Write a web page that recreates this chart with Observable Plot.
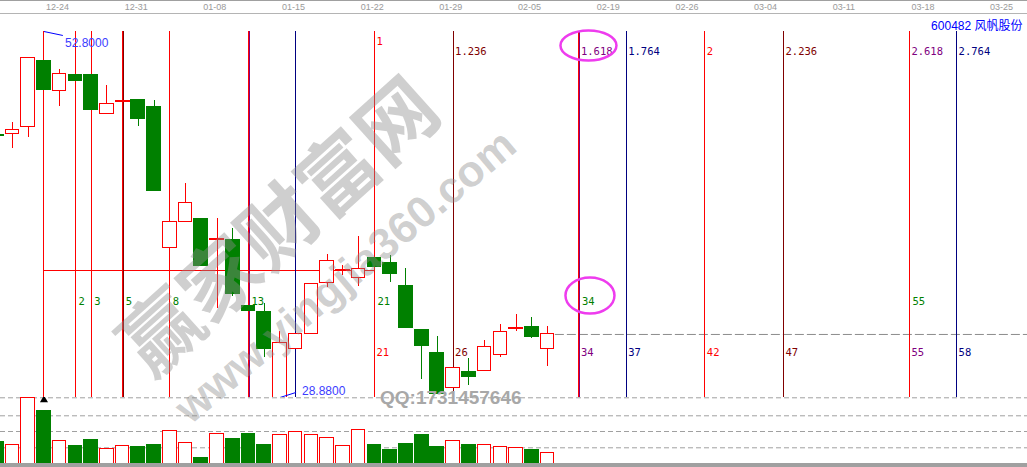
<!DOCTYPE html>
<html><head><meta charset="utf-8">
<script src="https://cdn.jsdelivr.net/npm/d3@7"></script>
<script src="https://cdn.jsdelivr.net/npm/@observablehq/plot@0.6"></script>
<style>
body{margin:0;background:#fff;}
#wrap{position:relative;width:1027px;height:467px;overflow:hidden;background:#fff;}
#wrap svg{display:block;max-width:none;}
#dates{border-top:1px solid #a0a0a0;border-bottom:1px solid #b4b4b4;height:12px;}
#price{height:383px;}
#vol{height:66px;border-bottom:4px solid #a0a0a0;}
.wm{position:absolute;white-space:nowrap;line-height:1;transform-origin:50% 50%;pointer-events:none;}
#wm1{left:275px;top:222px;transform:translate(-50%,-50%) rotate(-42deg);font:bold 79px "Noto Sans CJK SC";color:rgba(140,140,140,0.42);}
#wm2{left:345px;top:276px;transform:translate(-50%,-50%) rotate(-40deg);font:bold 44px "Liberation Sans";color:rgba(140,140,140,0.42);}
#wm3{left:380px;top:387px;font:bold 19px "Liberation Sans";color:#a8a8a8;}
</style></head>
<body>
<div id="wrap">
  <div id="dates"></div>
  <div id="price"></div>
  <div id="vol"></div>
  <div class="wm" id="wm1">赢家财富网</div>
  <div class="wm" id="wm2">www.yingjia360.com</div>
  <div class="wm" id="wm3">QQ:1731457646</div>
</div>
<script>
// ---------- data ----------
const stockName = "600482 风帆股份";
const tickIdx = [3, 8, 13, 18, 23, 28, 33, 38, 43, 48, 53, 58, 63];
const tickLabels = ["12-24","12-31","01-08","01-15","01-22","01-29","02-05","02-19","02-26","03-04","03-11","03-18","03-25"];

const opens  = [46.05,46.07,46.53,50.90,48.88,49.99,49.99,47.44,48.29,48.36,47.90,38.62,40.38,40.58,39.27,39.21,34.89,34.50,28.88,32.08,33.06,36.39,37.24,36.66,38.03,37.70,36.20,33.32,31.82,29.53,30.58,30.64,31.69,33.39,33.52,32.08];
const closes = [45.95,46.39,51.04,48.94,49.99,49.53,47.64,48.09,48.29,47.05,42.34,40.38,41.56,37.44,39.27,35.61,34.50,32.02,32.47,33.00,36.33,37.83,37.24,37.31,37.38,36.92,33.39,32.21,29.07,30.84,30.19,32.21,33.19,33.39,32.80,33.00];
const highs  = [46.10,46.85,51.04,52.80,50.32,49.99,49.99,49.27,48.32,48.36,48.29,40.38,42.87,40.58,40.58,39.92,34.89,35.02,33.19,34.37,36.33,38.23,37.51,39.40,38.03,38.16,37.31,33.32,32.87,31.36,31.43,32.60,33.65,34.30,34.11,33.52];
const lows   = [45.90,45.15,45.87,48.94,47.90,49.53,47.64,47.44,48.26,46.59,42.34,38.62,40.32,37.44,34.70,35.48,34.50,31.49,28.88,31.43,33.06,36.07,36.85,36.13,37.38,36.39,33.39,30.05,29.07,29.40,29.66,30.64,31.49,33.19,32.73,30.90];
const volumes= [220,187,657,530,230,180,240,147,177,170,190,327,207,60,297,250,300,190,287,317,287,257,177,337,190,140,200,290,170,227,190,187,167,157,140,107];
const volumeGrid = [157, 320, 477, 657];

const originIdx = 3;                       // Fibonacci start bar (the 52.80 high)
const fibDays = [2, 3, 5, 8, 13, 21, 34, 55];
const ratios = [0.236, 0.618, 0.764, 1, 1.236, 1.618, 1.764, 2, 2.236, 2.618, 2.764];
const ratioDays = [5, 13, 16, 21, 26, 34, 37, 42, 47, 55, 58];
const hLinePrice = 37.18;
const hLineDays = 21;
const circledDay = 34;

// ---------- derived ----------
const xDomain = [0.2374, 65.505];
const candles = opens.map((o, i) => ({i, open: o, close: closes[i], high: highs[i], low: lows[i], vol: volumes[i]}));
const upC = candles.filter(d => d.close > d.open);
const downC = candles.filter(d => d.close < d.open);
const dojiC = candles.filter(d => d.close === d.open);
const RED = "#ff0000", GREEN = "#008000";
const colorOf = d => d.close < d.open ? GREEN : RED;
function ratioColor(r) {
  const f = Math.round((r - Math.floor(r)) * 1000);
  return f === 0 ? RED : f === 236 ? "#800000" : f === 618 ? "#800080" : "#000080";
}
const ratioRows = ratios.map((r, k) => ({r, day: ratioDays[k]}));
const ratioTop = ratioRows.filter(d => d.r >= 1);
// ratio lines sitting beside a count line (drawn 1px to the right)
const besideCount = d => fibDays.includes(d.day) && d.r < 2 && ratioColor(d.r) !== RED;
const hi = d3.maxIndex(highs), lo = d3.minIndex(lows);
const extremes = [{i: hi, p: highs[hi], up: true}, {i: lo, p: lows[lo], up: false}];
const lastClose = closes[closes.length - 1];

function ellipse(rx, ry) {
  const k = 0.5523;
  return {draw(ctx) {
    ctx.moveTo(rx, 0);
    ctx.bezierCurveTo(rx, ry * k, rx * k, ry, 0, ry);
    ctx.bezierCurveTo(-rx * k, ry, -rx, ry * k, -rx, 0);
    ctx.bezierCurveTo(-rx, -ry * k, -rx * k, -ry, 0, -ry);
    ctx.bezierCurveTo(rx * k, -ry, rx, -ry * k, rx, 0);
    ctx.closePath();
  }};
}
const mono = "DejaVu Sans Mono";

// ---------- date strip ----------
document.getElementById("dates").append(Plot.plot({
  width: 1027, height: 12, margin: 0,
  x: {domain: xDomain, axis: null},
  marks: [
    Plot.text(tickIdx, {x: d => d, text: (d, k) => tickLabels[k], frameAnchor: "middle", textAnchor: "start", dx: 2, fill: "#9a9a9a", fontSize: 9, fontFamily: "Liberation Sans"})
  ]
}));

// ---------- price panel ----------
document.getElementById("price").append(Plot.plot({
  width: 1027, height: 383, margin: 0, marginTop: 17,
  x: {domain: xDomain, axis: null},
  y: {domain: [28.88, 52.80], axis: null},
  color: {type: "identity"},
  marks: [
    Plot.ruleY([lastClose], {x1: candles.length - 0.5, x2: xDomain[1], stroke: "#8c8c8c", strokeDasharray: "9,3"}),
    Plot.ruleY([hLinePrice], {x1: originIdx, x2: originIdx + hLineDays, stroke: RED, shapeRendering: "crispEdges"}),
    Plot.ruleX(candles, {x: "i", y1: "low", y2: "high", stroke: colorOf, shapeRendering: "crispEdges"}),
    Plot.ruleX(ratioRows.filter(besideCount), {x: d => originIdx + d.day, dx: 1, stroke: d => ratioColor(d.r), shapeRendering: "crispEdges"}),
    Plot.ruleX(ratioRows.filter(d => !besideCount(d)), {x: d => originIdx + d.day, stroke: d => ratioColor(d.r), shapeRendering: "crispEdges"}),
    Plot.ruleX([0, ...fibDays], {x: d => originIdx + d, stroke: RED, shapeRendering: "crispEdges"}),
    Plot.rect(downC, {x1: d => d.i - 0.47, x2: d => d.i + 0.47, y1: "open", y2: "close", fill: GREEN, shapeRendering: "crispEdges"}),
    Plot.rect(upC, {x1: d => d.i - 0.43, x2: d => d.i + 0.43, y1: "open", y2: "close", fill: "white", stroke: RED, strokeWidth: 1, shapeRendering: "crispEdges"}),
    Plot.ruleY(dojiC, {y: "close", x1: d => d.i - 0.47, x2: d => d.i + 0.47, stroke: RED, strokeWidth: 2, shapeRendering: "crispEdges"}),
    // Fibonacci ratio labels (top), counts (middle), day counts (bottom)
    Plot.text(ratioTop.filter(d => d.r === 1), {x: d => originIdx + d.day, text: d => String(d.r), frameAnchor: "top", dy: 6, dx: 2, textAnchor: "start", fill: d => ratioColor(d.r), fontSize: 10.5, fontFamily: mono}),
    Plot.text(ratioTop.filter(d => d.r !== 1), {x: d => originIdx + d.day, text: d => String(d.r), frameAnchor: "top", dy: 16, dx: 2, textAnchor: "start", fill: d => ratioColor(d.r), fontSize: 10.5, fontFamily: mono}),
    Plot.text(fibDays, {x: d => originIdx + d, text: d => String(d), frameAnchor: "top", dy: 266, dx: 3, textAnchor: "start", fill: GREEN, fontSize: 10.5, fontFamily: mono}),
    Plot.text(ratioTop, {x: d => originIdx + d.day, text: d => String(d.day), frameAnchor: "top", dy: 317, dx: 2, textAnchor: "start", fill: d => ratioColor(d.r), fontSize: 10.5, fontFamily: mono}),
    // highlight ellipses around 1.618 and 34
    Plot.dot([circledDay], {x: d => originIdx + d, frameAnchor: "top", dx: 9.5, dy: 14, symbol: ellipse(28, 15), fill: "none", stroke: "#ee3cee", strokeWidth: 2.5}),
    Plot.dot([circledDay], {x: d => originIdx + d, frameAnchor: "top", dx: 11, dy: 264, symbol: ellipse(24.5, 18), fill: "none", stroke: "#ee3cee", strokeWidth: 2.5}),
    // high / low markers
    Plot.link(extremes, {x1: "i", y1: "p", x2: d => d.i + (d.up ? 1.2 : 1.02), y2: d => d.p + (d.up ? -0.26 : 0.33), stroke: "#0000ff"}),
    Plot.text(extremes.filter(d => d.up), {x: "i", y: "p", text: d => d.p.toFixed(4), dx: 21, dy: 12, textAnchor: "start", fill: "#3c3cff", fontSize: 12, fontFamily: "Liberation Sans"}),
    Plot.text(extremes.filter(d => !d.up), {x: "i", y: "p", text: d => d.p.toFixed(4), dx: 22, dy: -6, textAnchor: "start", fill: "#3c3cff", fontSize: 12, fontFamily: "Liberation Sans"}),
    Plot.text([stockName], {frameAnchor: "top-right", dx: -5, dy: -10, textAnchor: "end", fill: "#0000ff", fontSize: 12, fontFamily: "Liberation Sans, Noto Sans CJK SC"})
  ]
}));

// ---------- volume panel ----------
document.getElementById("vol").append(Plot.plot({
  width: 1027, height: 66, margin: 0,
  x: {domain: xDomain, axis: null},
  y: {domain: [0, 660], axis: null},
  color: {type: "identity"},
  marks: [
    Plot.ruleY(volumeGrid, {stroke: "#a0a0a0", strokeDasharray: "5,3"}),
    Plot.rectY(downC, {x1: d => d.i - 0.47, x2: d => d.i + 0.47, y: "vol", fill: GREEN, shapeRendering: "crispEdges"}),
    Plot.rectY(upC.concat(dojiC), {x1: d => d.i - 0.43, x2: d => d.i + 0.43, y: "vol", fill: "white", stroke: RED, shapeRendering: "crispEdges"}),
    Plot.dot([originIdx], {x: d => d, frameAnchor: "top", dy: 2.5, symbol: "triangle", r: 3, fill: "black", stroke: "none"})
  ]
}));
</script>
</body></html>
